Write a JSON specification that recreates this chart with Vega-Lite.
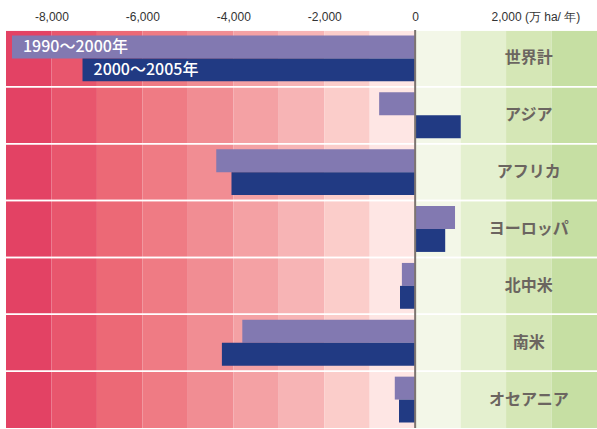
{
  "$schema": "https://vega.github.io/schema/vega-lite/v6.json",
  "width": 591,
  "height": 398,
  "autosize": {"type": "none"},
  "padding": {"left": 6, "top": 30, "right": 0, "bottom": 1},
  "background": "white",
  "config": {"view": {"stroke": null}},
  "datasets": {
    "bands": [
      {"from": -9000, "to": -8000},
      {"from": -8000, "to": -7000},
      {"from": -7000, "to": -6000},
      {"from": -6000, "to": -5000},
      {"from": -5000, "to": -4000},
      {"from": -4000, "to": -3000},
      {"from": -3000, "to": -2000},
      {"from": -2000, "to": -1000},
      {"from": -1000, "to": 0},
      {"from": 0, "to": 1000},
      {"from": 1000, "to": 2000},
      {"from": 2000, "to": 3000},
      {"from": 3000, "to": 4000}
    ],
    "forest": [
      {"region": "世界計", "series": "1990～2000年", "value": -8868},
      {"region": "世界計", "series": "2000～2005年", "value": -7317},
      {"region": "アジア", "series": "1990～2000年", "value": -792},
      {"region": "アジア", "series": "2000～2005年", "value": 1003},
      {"region": "アフリカ", "series": "1990～2000年", "value": -4375},
      {"region": "アフリカ", "series": "2000～2005年", "value": -4040},
      {"region": "ヨーロッパ", "series": "1990～2000年", "value": 877},
      {"region": "ヨーロッパ", "series": "2000～2005年", "value": 661},
      {"region": "北中米", "series": "1990～2000年", "value": -292},
      {"region": "北中米", "series": "2000～2005年", "value": -333},
      {"region": "南米", "series": "1990～2000年", "value": -3802},
      {"region": "南米", "series": "2000～2005年", "value": -4251},
      {"region": "オセアニア", "series": "1990～2000年", "value": -448},
      {"region": "オセアニア", "series": "2000～2005年", "value": -356}
    ],
    "zero": [{"x": 0}]
  },
  "resolve": {"scale": {"color": "independent"}},
  "layer": [
    {
      "data": {"name": "bands"},
      "mark": {"type": "rect"},
      "encoding": {
        "x": {
          "field": "from",
          "type": "quantitative",
          "title": null,
          "scale": {"domain": [-9000, 4000], "nice": false, "zero": false},
          "axis": {
            "orient": "top",
            "title": null,
            "values": [-8000, -6000, -4000, -2000, 0, 2000],
            "labelExpr": "datum.value == 2000 ? '2,000 (万 ha/ 年)' : ((datum.value < 0 ? '-' : '') + format(abs(datum.value), ',d'))",
            "labelAlign": {"condition": {"test": "datum.value == 2000", "value": "left"}, "value": "center"},
            "labelOffset": {"condition": {"test": "datum.value == 2000", "value": -15}, "value": 0},
            "labelFlush": false,
            "labelOverlap": false,
            "labelFont": "Liberation Sans",
            "labelFontSize": 12,
            "labelColor": "#333333",
            "labelPadding": 7,
            "domain": false,
            "ticks": false,
            "grid": false
          }
        },
        "x2": {"field": "to"},
        "color": {
          "field": "from",
          "type": "ordinal",
          "legend": null,
          "scale": {
            "domain": [-9000, -8000, -7000, -6000, -5000, -4000, -3000, -2000, -1000, 0, 1000, 2000, 3000],
            "range": ["#e34264", "#e8566d", "#ec6976", "#ef7b84", "#f18d93", "#f4a1a4", "#f7b4b5", "#fbcdca", "#fee6e4", "#f3f7e8", "#e4f0cf", "#d5e7b6", "#c6dfa3"]
          }
        }
      }
    },
    {
      "data": {"name": "forest"},
      "mark": {"type": "rule", "color": "white", "strokeWidth": 1.5},
      "encoding": {
        "y": {
          "field": "region",
          "type": "nominal",
          "bandPosition": 0,
          "sort": ["世界計", "アジア", "アフリカ", "ヨーロッパ", "北中米", "南米", "オセアニア"],
          "scale": {"paddingInner": 0, "paddingOuter": 0},
          "axis": null
        }
      }
    },
    {
      "data": {"name": "forest"},
      "mark": {"type": "bar"},
      "encoding": {
        "y": {
          "field": "region",
          "type": "nominal",
          "sort": ["世界計", "アジア", "アフリカ", "ヨーロッパ", "北中米", "南米", "オセアニア"],
          "axis": null
        },
        "yOffset": {
          "field": "series",
          "type": "nominal",
          "scale": {"paddingInner": 0, "paddingOuter": 0.24}
        },
        "x": {"field": "value", "type": "quantitative", "stack": null, "title": null},
        "x2": {"datum": 0},
        "color": {
          "field": "series",
          "type": "nominal",
          "legend": null,
          "scale": {"domain": ["1990～2000年", "2000～2005年"], "range": ["#8279b1", "#213a83"]}
        }
      }
    },
    {
      "data": {"name": "zero"},
      "mark": {"type": "rule", "color": "#7d7470", "strokeWidth": 2},
      "encoding": {"x": {"field": "x", "type": "quantitative", "title": null}}
    },
    {
      "data": {"name": "forest"},
      "transform": [{"filter": "datum.series == '1990～2000年'"}],
      "mark": {"type": "text", "align": "center", "baseline": "middle", "font": "Noto Sans CJK JP", "fontWeight": "bold", "fontSize": 16, "color": "#6b6560"},
      "encoding": {
        "x": {"datum": 2500},
        "y": {
          "field": "region",
          "type": "nominal",
          "sort": ["世界計", "アジア", "アフリカ", "ヨーロッパ", "北中米", "南米", "オセアニア"],
          "axis": null
        },
        "text": {"field": "region"}
      }
    },
    {
      "data": {"name": "forest"},
      "transform": [{"filter": "datum.region == '世界計'"}],
      "mark": {"type": "text", "align": "left", "baseline": "middle", "dx": 11, "font": "Noto Sans CJK JP", "fontWeight": 500, "fontSize": 16, "color": "white"},
      "encoding": {
        "x": {"field": "value", "type": "quantitative", "title": null},
        "y": {
          "field": "region",
          "type": "nominal",
          "sort": ["世界計", "アジア", "アフリカ", "ヨーロッパ", "北中米", "南米", "オセアニア"],
          "axis": null
        },
        "yOffset": {"field": "series", "type": "nominal"},
        "text": {"field": "series"}
      }
    }
  ]
}
